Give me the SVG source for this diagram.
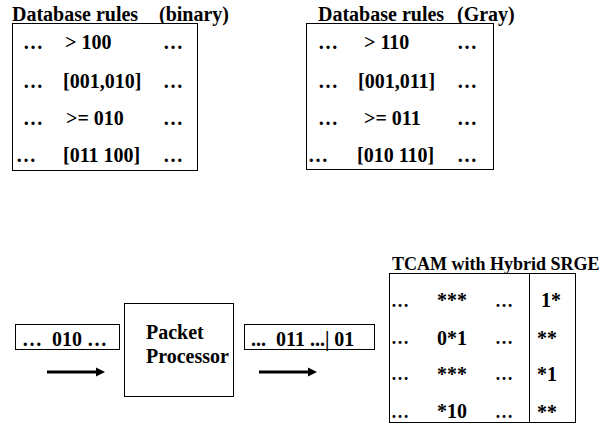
<svg xmlns="http://www.w3.org/2000/svg" width="602" height="426" viewBox="0 0 602 426">
<defs>
<style>
text { font-family: "Liberation Serif", "Times New Roman", serif; font-weight: bold; fill: #000; font-size: 20px; }
.tt { font-size: 18px; }
.d { font-size: 18px; }
.box { fill: #fff; stroke: #000; stroke-width: 1; }
.arr { stroke: #000; stroke-width: 3; fill: none; }
.head { fill: #000; stroke: none; }
</style>
</defs>
<rect width="602" height="426" fill="#fff"/>

<g id="db-binary">
<text x="12" y="21">Database rules</text><text x="159" y="21">(binary)</text>
<rect class="box" x="12.5" y="23.5" width="185" height="147"/>
<text x="23" y="49">…</text><text x="65" y="49">&gt; 100</text><text x="163" y="49">…</text>
<text x="23" y="88">…</text><text x="63" y="88">[001,010]</text><text x="163" y="88">…</text>
<text x="23" y="125">…</text><text x="66" y="125">&gt;= 010</text><text x="163" y="125">…</text>
<text x="16" y="162">…</text><text x="63" y="162">[011 100]</text><text x="163" y="162">…</text>
</g>

<g id="db-gray">
<text x="318" y="21">Database rules</text><text x="457" y="21">(Gray)</text>
<rect class="box" x="306.5" y="23.5" width="187" height="146"/>
<text x="318" y="49">…</text><text x="364" y="49">&gt; 110</text><text x="457" y="49">…</text>
<text x="318" y="88">…</text><text x="358" y="88">[001,011]</text><text x="457" y="88">…</text>
<text x="318" y="125">…</text><text x="364" y="125">&gt;= 011</text><text x="457" y="125">…</text>
<text x="308" y="162">…</text><text x="357" y="162">[010 110]</text><text x="457" y="162">…</text>
</g>

<g id="packet-in">
<rect class="box" x="15.5" y="324.5" width="104" height="25"/>
<text x="22" y="346" xml:space="preserve">…  010 …</text>
</g>

<g id="packet-processor">
<rect class="box" x="124.5" y="303.5" width="109" height="93"/>
<text x="146" y="339">Packet</text>
<text x="146" y="363">Processor</text>
</g>

<g id="packet-out">
<rect class="box" x="244.5" y="324.5" width="130" height="25"/>
<text x="251" y="346" xml:space="preserve">...  011 ...| 01</text>
</g>

<g id="tcam">
<text class="tt" x="392" y="270">TCAM with Hybrid SRGE</text>
<rect class="box" x="389.5" y="273.5" width="186" height="149"/>
<line x1="529.5" y1="273.5" x2="529.5" y2="422.5" stroke="#000"/>
<text class="d" x="391" y="307">…</text><text x="437" y="307">***</text><text class="d" x="495" y="307">…</text><text x="541" y="307">1*</text>
<text class="d" x="391" y="344">…</text><text x="437" y="345">0*1</text><text class="d" x="495" y="344">…</text><text x="537" y="345">**</text>
<text class="d" x="391" y="380">…</text><text x="437" y="381">***</text><text class="d" x="495" y="380">…</text><text x="537" y="381">*1</text>
<text class="d" x="391" y="418">…</text><text x="437" y="418">*10</text><text class="d" x="495" y="418">…</text><text x="537" y="419">**</text>
</g>

<g id="connectors">
<line class="arr" x1="47" y1="372" x2="98" y2="372"/>
<polygon class="head" points="96,367.5 105,372 96,376.5"/>
<line class="arr" x1="259" y1="372" x2="310" y2="372"/>
<polygon class="head" points="308,367.5 317,372 308,376.5"/>
</g>
</svg>
